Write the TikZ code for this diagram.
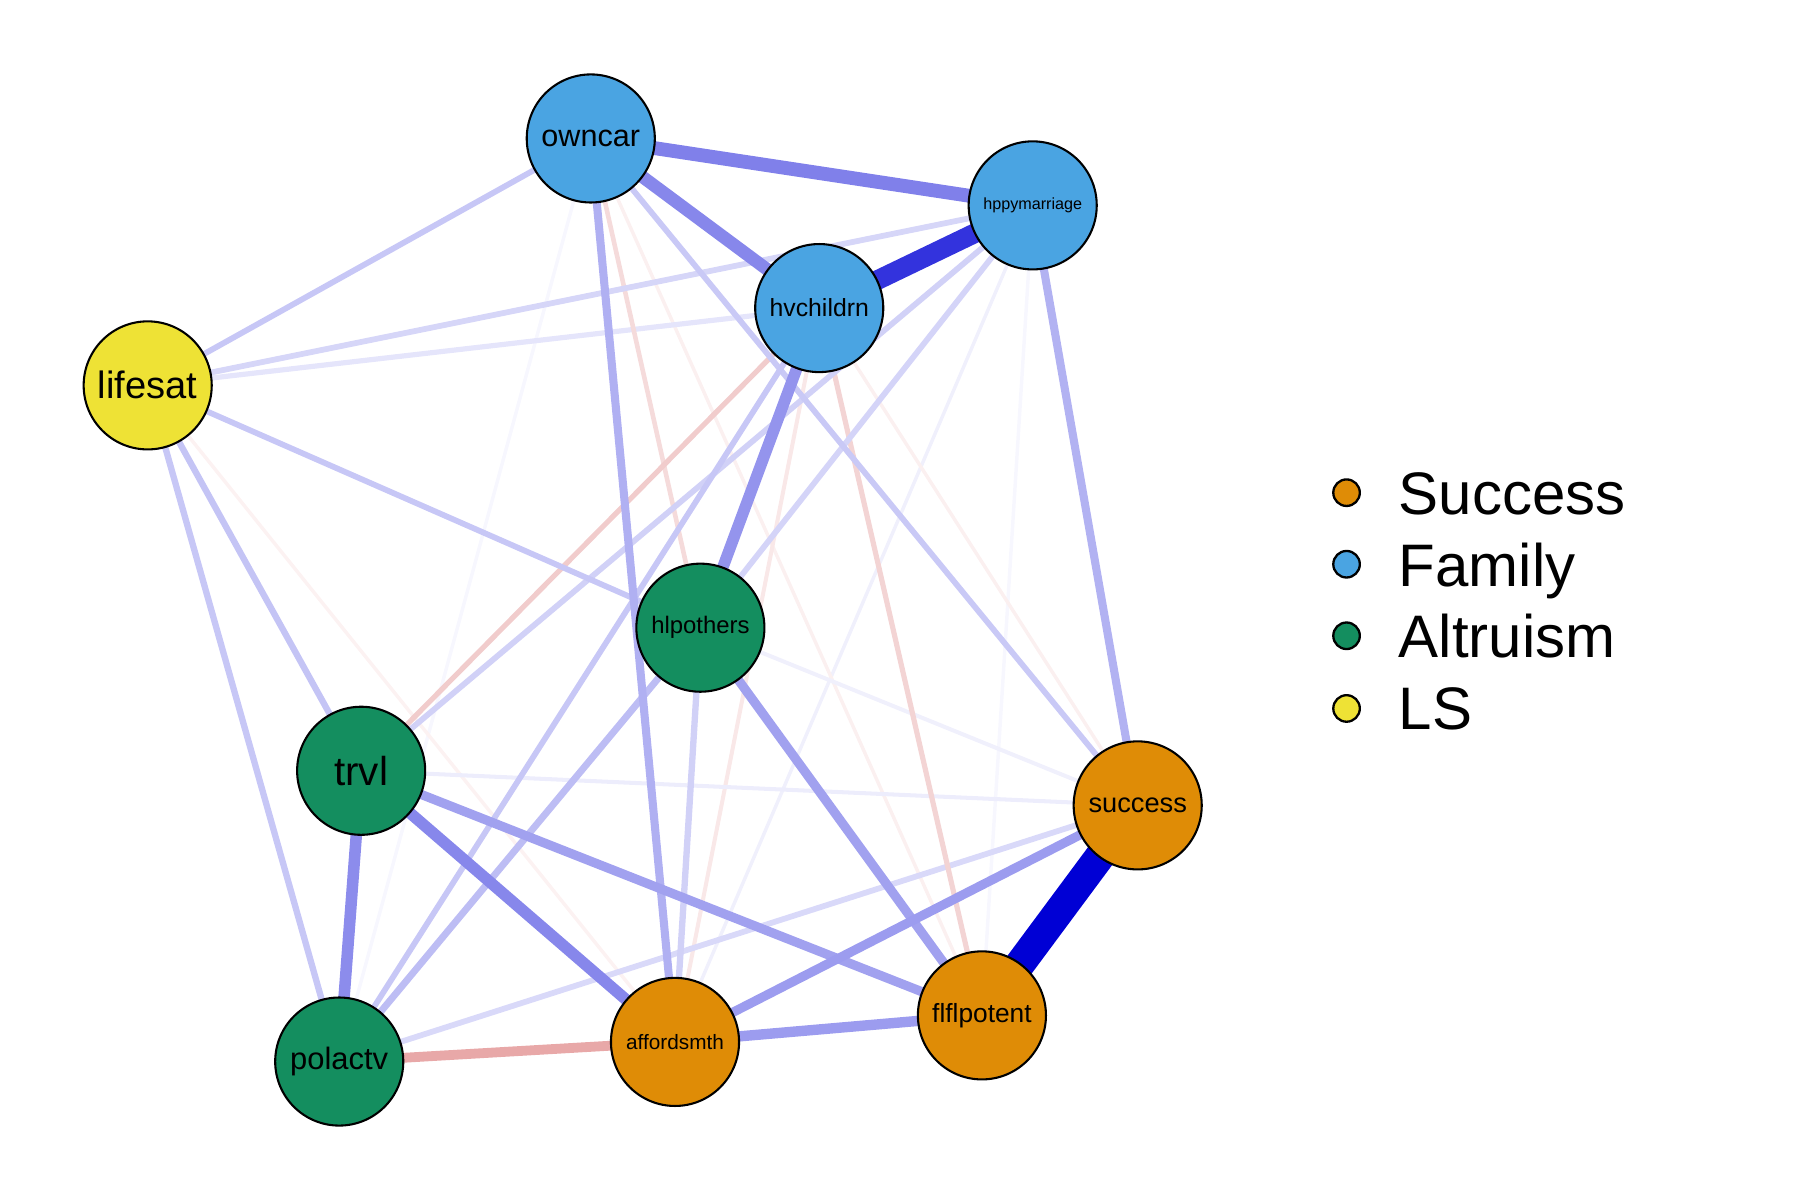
\documentclass[tikz,border=0pt]{standalone}
\usepackage{fontspec}
\setmainfont{Liberation Sans}
\usetikzlibrary{backgrounds}
\definecolor{posb}{HTML}{0000D5}
\definecolor{negr}{HTML}{BA0000}
\definecolor{cfam}{HTML}{4AA4E2}
\definecolor{csuc}{HTML}{DF8C06}
\definecolor{calt}{HTML}{148E5F}
\definecolor{cls}{HTML}{EEE235}
\newcommand{\fsz}[1]{\fontsize{#1}{#1}\selectfont}
\begin{document}
\begin{tikzpicture}[x=1pt,y=-1pt,
  vnode/.style={circle,draw=black,line width=1.8pt,minimum size=111pt,inner sep=0pt},
  lcirc/.style={circle,draw=black,line width=2pt,minimum size=23pt,inner sep=0pt},
  ltext/.style={anchor=base west,inner sep=0pt,font=\fsz{52}},
  pedge/.style 2 args={draw=posb!#1!white,line width=#2pt},
  nedge/.style 2 args={draw=negr!#1!white,line width=#2pt}]
\useasboundingbox (0,0) rectangle (1560,1040);

% nodes
\node[vnode,fill=cfam,font=\fsz{26.5}] (owncar) at (512,120) {owncar};
\node[vnode,fill=cfam,font=\fsz{14}] (hppy) at (895,178) {hppymarriage};
\node[vnode,fill=cfam,font=\fsz{21.5}] (hvch) at (710,267) {hvchildrn};
\node[vnode,fill=cls,font=\fsz{33}] (lifesat) at (128,334) {lifesat};
\node[vnode,fill=calt,font=\fsz{20.7}] (hlp) at (607,544) {hlpothers};
\node[vnode,fill=calt,font=\fsz{35}] (trvl) at (313,668) {trvl};
\node[vnode,fill=csuc,font=\fsz{23.6}] (succ) at (986,698) {success};
\node[vnode,fill=csuc,font=\fsz{22.8}] (flfl) at (851,880) {flflpotent};
\node[vnode,fill=csuc,font=\fsz{18}] (aff) at (585,903) {affordsmth};
\node[vnode,fill=calt,font=\fsz{26.8}] (pol) at (294,920) {polactv};

% edges (weak first)
\begin{pgfonlayer}{background}
\draw[pedge={3}{3}] (hppy.center) -- (flfl.center);
\draw[pedge={3}{3}] (owncar.center) -- (pol.center);
\draw[pedge={6}{3}] (hppy.center) -- (aff.center);
\draw[nedge={6}{3}] (owncar.center) -- (flfl.center);
\draw[nedge={6}{3}] (hvch.center) -- (succ.center);
\draw[nedge={5}{3}] (lifesat.center) -- (aff.center);
\draw[nedge={9}{3.5}] (hvch.center) -- (aff.center);
\draw[pedge={6}{3.5}] (hlp.center) -- (succ.center);
\draw[pedge={7}{3.5}] (trvl.center) -- (succ.center);
\draw[pedge={10}{4.5}] (hvch.center) -- (lifesat.center);
\draw[nedge={14}{4}] (owncar.center) -- (hlp.center);
\draw[pedge={15}{5}] (succ.center) -- (pol.center);
\draw[pedge={16}{5}] (hppy.center) -- (lifesat.center);
\draw[nedge={17}{4.5}] (hvch.center) -- (flfl.center);
\draw[pedge={17}{5}] (hppy.center) -- (hlp.center);
\draw[pedge={18}{5.5}] (hlp.center) -- (aff.center);
\draw[pedge={18}{5}] (hppy.center) -- (trvl.center);
\draw[nedge={20}{4.5}] (hvch.center) -- (trvl.center);
\draw[pedge={21}{5}] (owncar.center) -- (succ.center);
\draw[pedge={22}{5}] (hvch.center) -- (pol.center);
\draw[pedge={22}{5}] (lifesat.center) -- (hlp.center);
\draw[pedge={22}{5}] (owncar.center) -- (lifesat.center);
\draw[pedge={22}{5.5}] (lifesat.center) -- (pol.center);
\draw[pedge={23}{5.5}] (lifesat.center) -- (trvl.center);
\draw[pedge={26}{6}] (hlp.center) -- (pol.center);
\draw[pedge={30}{7}] (hppy.center) -- (succ.center);
\draw[pedge={31}{7}] (owncar.center) -- (aff.center);
\draw[nedge={34}{8.5}] (aff.center) -- (pol.center);
\draw[pedge={37}{8}] (trvl.center) -- (flfl.center);
\draw[pedge={37}{8}] (hlp.center) -- (flfl.center);
\draw[pedge={39}{9}] (aff.center) -- (flfl.center);
\draw[pedge={39}{8}] (succ.center) -- (aff.center);
\draw[pedge={42}{10}] (hvch.center) -- (hlp.center);
\draw[pedge={45}{10}] (trvl.center) -- (pol.center);
\draw[pedge={47}{10}] (trvl.center) -- (aff.center);
\draw[pedge={47}{11}] (owncar.center) -- (hvch.center);
\draw[pedge={50}{12}] (owncar.center) -- (hppy.center);
\draw[pedge={80}{17}] (hvch.center) -- (hppy.center);
\draw[pedge={100}{26}] (succ.center) -- (flfl.center);
\end{pgfonlayer}

% legend
\node[lcirc,fill=csuc] (l1) at (1167,427) {};
\node[lcirc,fill=cfam] (l2) at (1167,489) {};
\node[lcirc,fill=calt] (l3) at (1167,551) {};
\node[lcirc,fill=cls] (l4) at (1167,614) {};
\node[ltext] (t1) at (1212,446) {Success};
\node[ltext] (t2) at (1212,508) {Family};
\node[ltext] (t3) at (1212,570) {Altruism};
\node[ltext] (t4) at (1212,632) {LS};
\end{tikzpicture}
\end{document}
